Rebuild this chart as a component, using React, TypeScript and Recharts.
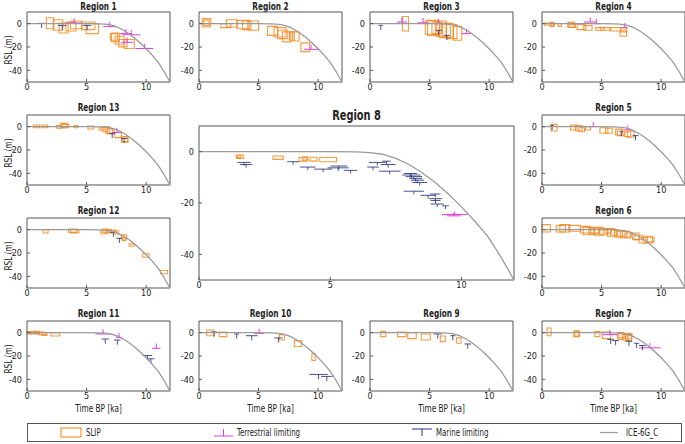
import { ComposedChart, Line, XAxis, YAxis, ReferenceArea, ReferenceLine } from "recharts";

// [t1, t2, rslTop, rslBottom] in ka / m
type Box = [number, number, number, number];
// [t1, t2, rsl]
type Lim = [number, number, number];

const modelAge = [0, 1, 2, 3, 4, 5, 6, 6.5, 7, 7.5, 8, 8.5, 9, 9.5, 10, 10.5, 11, 11.5, 12];
const modelRsl = [0, 0, 0, 0, 0, 0, -0.1, -0.4, -1.0, -2.6, -5.0, -8.2, -12, -16.5, -21.5, -27, -33, -41, -50];

const xTicks = [0, 5, 10];
const yTicks = [-40, -20, 0];

const region1Slip: Box[] = [
  [1.63, 2.25, 5.1, -4.3], [2.2, 3.0, 3.4, -5.7], [2.7, 3.45, 0.6, -8], [3.26, 4.1, 1.4, -6.3],
  [3.65, 4.6, 2.3, -4.3], [4.6, 5.7, 1.4, -5.1], [4.95, 6.0, 0, -8.5], [7.0, 7.6, -8.5, -14.2],
  [7.1, 7.75, -8, -15.6], [7.4, 8.15, -10.8, -17.6], [7.7, 8.4, -13.6, -19.9], [8.15, 9.0, -13.6, -21.3],
];
const region1Terr: Lim[] = [[3.3, 4.6, 0.6], [6.4, 7.4, -2.5], [7.8, 8.8, -8.5], [8.0, 9.5, -9.5], [7.9, 8.9, -16], [9.1, 10.6, -21.3]];
const region1Marine: Lim[] = [[0.95, 1.5, 0.3], [2.6, 3.3, -1.5], [4.7, 5.4, -1.5]];

const region2Slip: Box[] = [
  [0.28, 0.98, 4.3, -2.8], [0.4, 0.85, 3, -1.5], [1.83, 2.67, 0, -3.4], [2.3, 3.2, 3.4, -2.8],
  [3.2, 4.2, 2.8, -4.3], [3.65, 4.35, 2.3, -5.1], [4.1, 5.0, 2.3, -5.7], [5.75, 6.6, -2.3, -10],
  [6.3, 7.3, -3.4, -11.4], [6.6, 7.45, -5.7, -12.8], [7.0, 7.7, -7, -15.6], [7.6, 8.0, -7, -14.2],
  [7.85, 8.4, -7, -14.8], [8.55, 9.27, -16.5, -24],
];
const region2Terr: Lim[] = [[8.8, 10.0, -22]];
const region2Marine: Lim[] = [];

const region3Slip: Box[] = [
  [2.72, 3.23, 6.2, -6.3], [4.64, 5.62, 2.8, -9.1], [4.83, 5.84, 2.3, -10], [5.2, 6.0, 1.4, -8.5],
  [5.48, 6.4, 2.3, -10.8], [5.84, 6.74, 0.6, -12], [6.1, 6.97, 0, -11.4], [6.4, 7.3, -0.6, -12.8],
  [7.0, 7.7, -2.3, -14.2],
];
const region3Terr: Lim[] = [[2.25, 3.1, 1.4], [4.0, 4.9, 0.8], [5.4, 6.1, 0], [7.7, 8.5, -8.5]];
const region3Marine: Lim[] = [[0.7, 1.1, -1.4], [5.5, 6.0, -5.7], [6.2, 6.7, -10]];

const region4Slip: Box[] = [
  [0.22, 0.48, 0.6, -1.4], [0.65, 0.98, 1.1, -2.3], [0.75, 1.05, 0.3, -1.8], [1.35, 1.63, 0, -2.3],
  [2.16, 2.72, 1.1, -2.8], [2.25, 2.8, -0.6, -3.2], [2.95, 3.65, -0.6, -5.1], [3.5, 4.2, -1.7, -5.7],
  [4.5, 5.2, -3.4, -5.7], [4.9, 5.7, -3.4, -5.7], [5.75, 6.6, -3.4, -6.3], [6.6, 7.1, -3.4, -7],
  [6.55, 7.1, -5.7, -10.8],
];
const region4Terr: Lim[] = [[3.5, 4.6, 1.4], [4.1, 5.0, 0], [6.7, 7.2, -3.4]];
const region4Marine: Lim[] = [];

const region13Slip: Box[] = [
  [0.56, 1.07, 1.4, -0.9], [1.26, 1.74, 1.4, -0.9], [2.47, 2.89, 0.9, -1.4], [2.8, 3.37, 2.8, -0.9],
  [2.95, 3.5, 2, -0.9], [3.93, 4.27, 0.9, -0.9], [5.1, 5.6, 0.6, -2], [6.04, 6.46, -0.9, -2.8],
  [6.3, 6.9, 0, -4.3], [6.6, 7.16, -1.4, -5.7], [6.74, 7.3, -2, -6.3], [7.36, 7.92, -4.8, -9.4],
  [7.92, 8.48, -8.5, -13.4], [8.0, 8.45, -10, -12.8],
];
const region13Terr: Lim[] = [[7.2, 7.9, -5]];
const region13Marine: Lim[] = [[6.9, 7.4, -5.7], [7.9, 8.4, -10]];

const region12Slip: Box[] = [
  [1.35, 1.77, 0, -2.8], [3.5, 4.2, 0.6, -2.3], [3.65, 4.35, 0, -2.8], [6.2, 6.7, -0.3, -3.7],
  [6.35, 6.8, 0.6, -2.3], [6.65, 7.1, 0, -2.8], [6.9, 7.45, -0.3, -2.3], [7.3, 7.7, -0.9, -3.7],
  [7.9, 8.37, -4.5, -8], [8.0, 8.3, -6.5, -9.4], [8.57, 9.0, -12.2, -14.2], [9.7, 10.25, -20.7, -23.6],
  [11.2, 11.8, -35, -37.8],
];
const region12Terr: Lim[] = [];
const region12Marine: Lim[] = [[7.0, 7.5, -2.3], [7.5, 8.0, -7.4]];

const region5Slip: Box[] = [
  [0.76, 1.26, 2, -3.7], [2.39, 2.95, 1.4, -2.8], [2.8, 3.37, 0.9, -3.7], [3.1, 3.57, -0.9, -4.3],
  [3.65, 4.07, 0, -2.8], [4.86, 5.53, -0.9, -5.7], [5.34, 5.9, -1.4, -5.7], [6.18, 6.74, -2, -7.1],
  [6.32, 6.88, -2.8, -7.7], [6.94, 7.44, -4.3, -8.5], [7.16, 7.72, -3.7, -9.1],
];
const region5Terr: Lim[] = [[4.0, 4.6, 0], [6.9, 7.5, -2.8]];
const region5Marine: Lim[] = [[0.7, 1.0, 0.9], [6.5, 6.8, -4.3], [7.6, 8.1, -7.7]];

const region6Slip: Box[] = [
  [0, 0.7, 4.3, -2], [1.2, 1.97, 3.7, -2], [1.5, 2.33, 4.3, -2], [2.25, 3.23, 3.7, -1.4],
  [3.23, 4.07, 2.8, -2.8], [3.45, 4.35, 2, -4.3], [3.93, 4.8, 1.4, -3], [4.07, 4.78, 1.4, -3.7],
  [4.4, 5.14, 2, -4.8], [4.86, 5.53, 0.9, -4.3], [5.3, 5.85, 0.9, -3], [5.48, 6.1, 0.9, -5.7],
  [5.75, 6.35, 0, -4.8], [6.1, 6.74, -0.9, -6.5], [6.26, 7.1, -1.4, -5.7], [6.6, 7.4, -1.4, -7.1],
  [6.9, 7.5, -2.8, -6.5], [7.6, 8.15, -2.8, -8.5], [7.75, 8.45, -4.8, -8.5], [8.15, 8.85, -6.5, -11.4],
  [8.5, 9.27, -5.7, -11.4], [8.7, 9.4, -6.5, -10.5],
];
const region6Terr: Lim[] = [];
const region6Marine: Lim[] = [];

const region11Slip: Box[] = [
  [0, 0.42, 0.9, -1.1], [0.25, 0.85, 0.6, -1.1], [0.55, 1.07, 1.1, -0.6], [0.98, 1.54, 0.6, -1.7],
  [1.26, 1.69, 0, -2.3], [2.0, 2.75, 0, -2.8],
];
const region11Terr: Lim[] = [[5.76, 7.0, -1.1], [7.44, 8.0, -4], [10.5, 11.2, -13.4]];
const region11Marine: Lim[] = [[6.26, 6.88, -5.4], [7.3, 7.86, -6.3], [9.7, 10.5, -19.6], [10.1, 10.7, -22.4]];

const region10Slip: Box[] = [
  [0.65, 1.26, 2.3, -2.6], [1.7, 2.33, 0.6, -3.4], [6.74, 7.16, -1.7, -6.3], [8.0, 8.62, -6.8, -11.9],
  [9.47, 9.75, -18.2, -23.9],
];
const region10Terr: Lim[] = [[4.63, 5.48, -0.6]];
const region10Marine: Lim[] = [[0.98, 1.54, 0.6], [2.95, 3.37, -1.1], [3.93, 4.92, -2.6], [6.32, 7.0, -4.5], [9.27, 10.8, -35.8], [10.25, 11.2, -37.5]];

const region9Slip: Box[] = [
  [0.9, 1.32, 1.1, -3.4], [2.3, 3.03, 0.6, -3.4], [3.17, 3.88, 0, -5.1], [4.3, 5.06, -1.1, -6.3],
  [5.9, 6.32, -2.8, -7.7], [7.25, 7.64, -4.5, -9.1],
];
const region9Terr: Lim[] = [];
const region9Marine: Lim[] = [[5.34, 6.04, -1.1], [6.74, 7.16, -2.6], [7.92, 8.48, -9.7]];

const region7Slip: Box[] = [
  [0.42, 0.76, 4, -2.6], [2.67, 3.1, 1.7, -3.4], [2.75, 3.15, 0.9, -2.8], [4.44, 4.86, 1.1, -3.4],
  [5.06, 5.76, 0.6, -5.1], [6.32, 6.88, 0, -5.7], [6.45, 7.0, -0.6, -4.5], [6.74, 7.22, -1.1, -6.3],
  [7.02, 7.5, -1.7, -6.8], [7.15, 7.55, -0.6, -5.4],
];
const region7Terr: Lim[] = [[5.06, 6.32, -1.7], [8.15, 9.97, -13]];
const region7Marine: Lim[] = [[5.48, 6.04, -5.7], [5.9, 6.46, -6.8], [7.02, 7.58, -7.4], [7.72, 8.15, -9.1], [8.15, 8.71, -11]];

const region8Slip: Box[] = [
  [1.42, 1.69, -1.3, -2.6], [1.46, 1.59, -1.6, -2.4], [2.82, 3.21, -1.7, -3.0], [3.81, 4.12, -2.3, -3.7],
  [3.95, 4.15, -2.0, -3.3], [4.23, 4.5, -2.2, -3.7], [4.6, 5.24, -2.3, -3.9],
];
const region8Terr: Lim[] = [[9.26, 10.22, -24.5], [9.45, 9.96, -25]];
const region8Marine: Lim[] = [
  [1.46, 1.97, -4.2], [1.56, 2.03, -5.0], [3.36, 3.81, -3.9], [3.85, 4.44, -6.0], [4.38, 5.08, -6.8],
  [5.01, 5.65, -5.6], [4.9, 5.7, -6.3], [5.52, 6.03, -7.3], [6.41, 6.85, -6.0], [6.47, 7.11, -4.2],
  [6.98, 7.3, -3.7], [6.92, 7.49, -5.0], [6.85, 7.68, -7.6], [7.8, 8.31, -8.5], [7.74, 8.44, -9.1],
  [7.87, 8.5, -9.7], [8.06, 8.57, -11.1], [8.12, 8.69, -12.0], [8.0, 8.5, -10.4], [7.8, 8.57, -15.4],
  [8.44, 9.01, -17], [8.8, 9.2, -16.5], [8.76, 9.26, -18.3], [8.82, 9.2, -19], [8.82, 9.33, -20.4],
  [9.26, 9.52, -21.1],
];

const modelData = modelAge.map((t, i) => ({ t, rsl: modelRsl[i] }));

const FONT = '"DejaVu Sans Condensed", "DejaVu Sans", sans-serif';
const AXIS = "#555";
const ORANGE = "#f28a1e";
const MAGENTA = "#e03ce0";
const NAVY = "#27357a";
const MODEL = "#9a9a9a";
const SQUEEZE = "scaleX(0.78)";

type PanelProps = {
  title: string;
  left: number;
  top: number;
  w: number;
  h: number;
  slip: Box[];
  terr: Lim[];
  marine: Lim[];
  big?: boolean;
  yLabel?: boolean;
  xLabel?: boolean;
};

function Panel(p: PanelProps) {
  const mL = 28, mT = 2, mR = 3, mB = 16;
  const tickLen = p.big ? 1.2 : 4;
  const tickStyle = { fontSize: 9, fill: "#222", fontFamily: FONT, fontStretch: "condensed" };
  return (
    <>
      <div
        style={{
          position: "absolute",
          left: p.left,
          width: p.w,
          top: p.big ? p.top - 19 : Math.max(p.top - 14, 0),
          textAlign: "center",
          fontWeight: "bold",
          fontSize: p.big ? 14 : 10.5,
          lineHeight: p.big ? "16px" : "12px",
          transform: SQUEEZE,
        }}
      >
        {p.title}
      </div>
      {p.yLabel && (
        <div
          style={{
            position: "absolute",
            left: 8 - 30,
            top: p.top + p.h / 2 - 3,
            width: 60,
            textAlign: "center",
            transform: `rotate(-90deg) ${SQUEEZE}`,
            fontSize: 10.5,
            lineHeight: "12px",
          }}
        >
          RSL (m)
        </div>
      )}
      {p.xLabel && (
        <div
          style={{
            position: "absolute",
            left: p.left,
            width: p.w,
            top: p.top + p.h + 11,
            textAlign: "center",
            fontSize: 10.5,
            lineHeight: "12px",
            transform: SQUEEZE,
          }}
        >
          Time BP [ka]
        </div>
      )}
      <div style={{ position: "absolute", left: p.left - mL, top: p.top - mT }}>
        <ComposedChart
          width={p.w + mL + mR}
          height={p.h + mT + mB}
          data={modelData}
          margin={{ top: mT, right: mR, bottom: 0, left: 0 }}
        >
          <XAxis
            type="number"
            dataKey="t"
            domain={[0, 12]}
            ticks={xTicks}
            interval={0}
            height={mB}
            axisLine={false}
            tickSize={-3}
            tickMargin={5}
            tickLine={{ stroke: AXIS }}
            tick={tickStyle}
            allowDataOverflow
          />
          <XAxis
            xAxisId="top"
            orientation="top"
            type="number"
            domain={[0, 12]}
            ticks={xTicks}
            interval={0}
            height={0}
            axisLine={false}
            tickSize={-3}
            tickLine={{ stroke: AXIS }}
            tick={false}
            allowDataOverflow
          />
          <YAxis
            type="number"
            domain={[-50, 10]}
            ticks={yTicks}
            interval={0}
            width={mL}
            axisLine={false}
            tickSize={-3}
            tickMargin={8}
            tickLine={{ stroke: AXIS }}
            tick={tickStyle}
            allowDataOverflow
          />
          <YAxis
            yAxisId="right"
            orientation="right"
            type="number"
            domain={[-50, 10]}
            ticks={yTicks}
            interval={0}
            width={0}
            axisLine={false}
            tickSize={-3}
            tickLine={{ stroke: AXIS }}
            tick={false}
            allowDataOverflow
          />
          {p.slip.map((b, i) => (
            <ReferenceArea
              key={`s${i}`}
              x1={b[0]}
              x2={b[1]}
              y1={b[3]}
              y2={b[2]}
              fill="none"
              stroke={ORANGE}
              strokeOpacity={0.85}
              strokeWidth={1.1}
            />
          ))}
          {p.terr.map((m, i) => (
            <ReferenceLine
              key={`th${i}`}
              segment={[{ x: m[0], y: m[2] }, { x: m[1], y: m[2] }]}
              stroke={MAGENTA}
              strokeWidth={1}
            />
          ))}
          {p.terr.map((m, i) => (
            <ReferenceLine
              key={`tv${i}`}
              segment={[{ x: (m[0] + m[1]) / 2, y: m[2] }, { x: (m[0] + m[1]) / 2, y: m[2] + tickLen }]}
              stroke={MAGENTA}
              strokeWidth={1}
            />
          ))}
          {p.marine.map((m, i) => (
            <ReferenceLine
              key={`mh${i}`}
              segment={[{ x: m[0], y: m[2] }, { x: m[1], y: m[2] }]}
              stroke={NAVY}
              strokeOpacity={0.85}
              strokeWidth={1}
            />
          ))}
          {p.marine.map((m, i) => (
            <ReferenceLine
              key={`mv${i}`}
              segment={[{ x: (m[0] + m[1]) / 2, y: m[2] }, { x: (m[0] + m[1]) / 2, y: m[2] - tickLen }]}
              stroke={NAVY}
              strokeOpacity={0.85}
              strokeWidth={1}
            />
          ))}
          <Line
            type="linear"
            dataKey="rsl"
            stroke={MODEL}
            strokeWidth={1.3}
            dot={false}
            activeDot={false}
            isAnimationActive={false}
          />
          <ReferenceArea x1={0} x2={12} y1={-50} y2={10} fill="none" stroke={AXIS} strokeWidth={1} />
        </ComposedChart>
      </div>
    </>
  );
}

function LegendBar() {
  const text = {
    position: "absolute" as const,
    top: 3,
    fontSize: 10,
    lineHeight: "12px",
    transform: SQUEEZE,
    transformOrigin: "left center",
  };
  return (
    <div
      style={{
        position: "absolute",
        left: 27,
        top: 423,
        width: 655,
        height: 19,
        border: `1px solid ${AXIS}`,
        boxSizing: "border-box",
      }}
    >
      <svg width={655} height={17} style={{ position: "absolute", left: 0, top: 0 }}>
        <rect x={33} y={4} width={20} height={9} fill="none" stroke={ORANGE} strokeWidth={1.1} />
        <line x1={186} x2={205} y1={12} y2={12} stroke={MAGENTA} />
        <line x1={195.5} x2={195.5} y1={12} y2={5} stroke={MAGENTA} />
        <line x1={384} x2={404} y1={5} y2={5} stroke={NAVY} />
        <line x1={394} x2={394} y1={5} y2={12} stroke={NAVY} />
        <line x1={572} x2={590} y1={8.5} y2={8.5} stroke={MODEL} strokeWidth={1.3} />
      </svg>
      <span style={{ ...text, left: 58 }}>SLIP</span>
      <span style={{ ...text, left: 209 }}>Terrestrial limiting</span>
      <span style={{ ...text, left: 408 }}>Marine limiting</span>
      <span style={{ ...text, left: 598 }}>ICE-6G_C</span>
    </div>
  );
}

export default function App() {
  const W = 143, H = 70;
  const cols = [27, 198.5, 370, 542];
  const rows = [12, 115, 218, 321];
  return (
    <div
      style={{
        position: "absolute",
        left: 0,
        top: 0,
        width: 685,
        height: 444,
        background: "#fff",
        fontFamily: FONT,
        fontStretch: "condensed",
        color: "#222",
      }}
    >
      <Panel title="Region 1" left={cols[0]} top={rows[0]} w={W} h={H} slip={region1Slip} terr={region1Terr} marine={region1Marine} yLabel />
      <Panel title="Region 2" left={cols[1]} top={rows[0]} w={W} h={H} slip={region2Slip} terr={region2Terr} marine={region2Marine} />
      <Panel title="Region 3" left={cols[2]} top={rows[0]} w={W} h={H} slip={region3Slip} terr={region3Terr} marine={region3Marine} />
      <Panel title="Region 4" left={cols[3]} top={rows[0]} w={W} h={H} slip={region4Slip} terr={region4Terr} marine={region4Marine} />
      <Panel title="Region 13" left={cols[0]} top={rows[1]} w={W} h={H} slip={region13Slip} terr={region13Terr} marine={region13Marine} yLabel />
      <Panel title="Region 5" left={cols[3]} top={rows[1]} w={W} h={H} slip={region5Slip} terr={region5Terr} marine={region5Marine} />
      <Panel title="Region 12" left={cols[0]} top={rows[2]} w={W} h={H} slip={region12Slip} terr={region12Terr} marine={region12Marine} yLabel />
      <Panel title="Region 6" left={cols[3]} top={rows[2]} w={W} h={H} slip={region6Slip} terr={region6Terr} marine={region6Marine} />
      <Panel title="Region 11" left={cols[0]} top={rows[3]} w={W} h={H} slip={region11Slip} terr={region11Terr} marine={region11Marine} yLabel xLabel />
      <Panel title="Region 10" left={cols[1]} top={rows[3]} w={W} h={H} slip={region10Slip} terr={region10Terr} marine={region10Marine} xLabel />
      <Panel title="Region 9" left={cols[2]} top={rows[3]} w={W} h={H} slip={region9Slip} terr={region9Terr} marine={region9Marine} xLabel />
      <Panel title="Region 7" left={cols[3]} top={rows[3]} w={W} h={H} slip={region7Slip} terr={region7Terr} marine={region7Marine} xLabel />
      <Panel title="Region 8" left={198.5} top={126} w={315} h={154} slip={region8Slip} terr={region8Terr} marine={region8Marine} big />
      <LegendBar />
    </div>
  );
}
